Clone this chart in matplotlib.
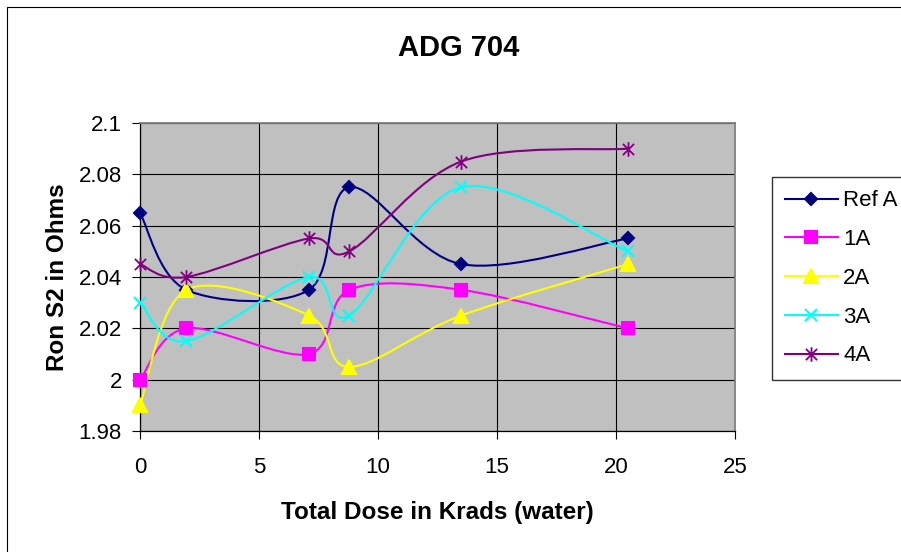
import numpy as np
import matplotlib; matplotlib.use("Agg")
import matplotlib.pyplot as plt
from matplotlib.path import Path
from matplotlib.patches import PathPatch, Rectangle
from matplotlib.lines import Line2D
from matplotlib.ticker import MultipleLocator, FuncFormatter

plt.rcParams["font.family"] = ["Liberation Sans", "DejaVu Sans"]

dose = [0, 1.95, 7.1, 8.8, 13.5, 20.5]
ref_a = [2.065, 2.035, 2.035, 2.075, 2.045, 2.055]
s_1a = [2.000, 2.020, 2.010, 2.035, 2.035, 2.020]
s_2a = [1.990, 2.035, 2.025, 2.005, 2.025, 2.045]
s_3a = [2.030, 2.015, 2.040, 2.025, 2.075, 2.050]
s_4a = [2.045, 2.040, 2.055, 2.050, 2.085, 2.090]
names = ["Ref A", "1A", "2A", "3A", "4A"]
series = [ref_a, s_1a, s_2a, s_3a, s_4a]

# excel-ish marker styles
star = Path([(-1, -1), (1, 1), (-1, 1), (1, -1), (0, -1.3), (0, 1.3)],
            [Path.MOVETO, Path.LINETO, Path.MOVETO, Path.LINETO, Path.MOVETO, Path.LINETO])
styles = [("#000080", "D", 6.5, 1.5), ("#FF00FF", "s", 8.6, 1.5), ("#FFFF00", "^", 9.5, 1.5),
          ("#00FFFF", "x", 8.5, 1.5), ("#800080", star, 10.5, 1.3)]


def smooth_path(x, y):
    # excel-style smoothed line: cubic bezier, control points at +-(P[i+1]-P[i-1])/6
    p = np.column_stack([x, y]).astype(float)
    ext = np.vstack([p[0], p, p[-1]])
    verts, codes = [p[0]], [Path.MOVETO]
    for i in range(len(p) - 1):
        c1 = p[i] + (ext[i + 2] - ext[i]) / 6
        c2 = p[i + 1] - (ext[i + 3] - ext[i + 1]) / 6
        verts += [c1, c2, p[i + 1]]
        codes += [Path.CURVE4] * 3
    return Path(verts, codes)


fig = plt.figure(figsize=(9.01, 5.52), dpi=100)
W, H = 901, 552
ax = fig.add_axes([140 / W, 1 - 431 / H, (735 - 140) / W, (431 - 123) / H])
ax.set_facecolor("#C0C0C0")
ax.set_xlim(0, 25); ax.set_ylim(1.98, 2.1)

handles = []
for vals, name, (c, m, ms, mw) in zip(series, names, styles):
    ax.add_patch(PathPatch(smooth_path(dose, vals), fill=False, edgecolor=c, lw=1.5, zorder=3))
    ax.plot(dose, vals, ls="none", marker=m, ms=ms, color=c, mec=c, mew=mw, zorder=4, clip_on=False)
    handles.append(Line2D([], [], color=c, lw=1.5, marker=m, ms=ms, mec=c, mew=mw))

ax.xaxis.set_major_locator(MultipleLocator(5))
ax.yaxis.set_major_locator(MultipleLocator(0.02))
ax.yaxis.set_major_formatter(FuncFormatter(lambda v, p: f"{v:g}"))
ax.grid(True, color="black", lw=0.8)
ax.set_axisbelow(True)
ax.tick_params(direction="out", length=6, width=0.8, labelsize=16, color="black")
ax.tick_params(axis="x", pad=13)
ax.tick_params(axis="y", pad=7)
for s in ("top", "right"):
    ax.spines[s].set_color("#808080"); ax.spines[s].set_linewidth(1.3)
for s in ("left", "bottom"):
    ax.spines[s].set_color("black"); ax.spines[s].set_linewidth(0.9)

ax.set_xlabel("Total Dose in Krads (water)", fontsize=17.5, fontweight="bold", labelpad=16)
ax.set_ylabel("Ron S2 in Ohms", fontsize=17.5, fontweight="bold", labelpad=7)
fig.text(459 / W, 1 - 48 / H, "ADG 704", fontsize=21, fontweight="bold", ha="center", va="center")

leg = fig.legend(handles, names, loc="upper left", bbox_to_anchor=(772 / W, 1 - 177 / H),
                 borderaxespad=0, fontsize=16, frameon=True, fancybox=False, edgecolor="black",
                 handlelength=2.35, handletextpad=0.25, labelspacing=0.8, borderpad=0.6)
leg.get_frame().set_linewidth(1.0)

# chart area border (runs off the right/bottom edge like the original)
fig.patches.append(Rectangle((6.5, -20), 1000, H - 6.5 + 20, transform=None, fill=False,
                             edgecolor="black", lw=0.8))

fig.savefig("out.png", dpi=100)
